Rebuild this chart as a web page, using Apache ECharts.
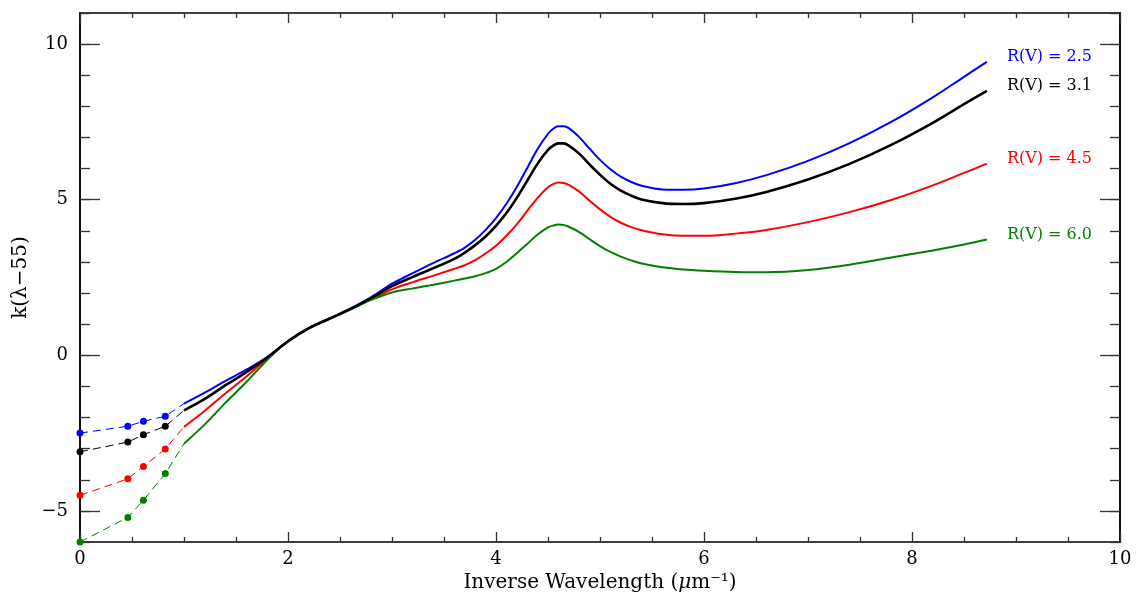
<!DOCTYPE html>
<html><head><meta charset="utf-8">
<script src="https://cdn.jsdelivr.net/npm/echarts@6/dist/echarts.min.js"></script>
<style>html,body{margin:0;padding:0;background:#fff}#c{width:1141px;height:604px}</style>
</head><body><div id="c"></div>
<script>
// Inverse wavelength grid of the solid curves
const xCurve = [1.0,1.2,1.4,1.6,1.8,2.0,2.2,2.4,2.6,2.8,3.0,3.2,3.4,3.6,3.7,3.8,3.9,4.0,4.1,4.2,4.3,4.4,4.5,4.55,4.6,4.65,4.7,4.8,4.9,5.0,5.1,5.2,5.3,5.4,5.6,5.8,6.0,6.3,6.6,7.0,7.4,7.8,8.2,8.5,8.72];
const kRV25 = [-1.55,-1.20,-0.82,-0.46,-0.06,0.45,0.87,1.19,1.50,1.87,2.30,2.64,2.97,3.28,3.46,3.71,4.03,4.41,4.87,5.41,6.02,6.63,7.12,7.28,7.36,7.36,7.30,7.01,6.64,6.28,5.98,5.74,5.57,5.45,5.33,5.32,5.36,5.53,5.79,6.25,6.82,7.50,8.29,8.95,9.43];
const kRV31 = [-1.77,-1.40,-0.96,-0.54,-0.07,0.45,0.87,1.18,1.49,1.84,2.22,2.52,2.80,3.10,3.30,3.54,3.82,4.16,4.57,5.06,5.61,6.16,6.60,6.74,6.81,6.81,6.74,6.48,6.13,5.80,5.51,5.29,5.13,5.01,4.89,4.86,4.89,5.03,5.25,5.65,6.15,6.76,7.47,8.07,8.50];
const kRV45 = [-2.30,-1.78,-1.22,-0.68,-0.10,0.44,0.86,1.17,1.48,1.81,2.12,2.35,2.56,2.78,2.90,3.06,3.27,3.52,3.84,4.21,4.64,5.06,5.40,5.50,5.55,5.54,5.48,5.26,4.97,4.69,4.45,4.26,4.12,4.02,3.89,3.84,3.84,3.91,4.03,4.28,4.60,4.99,5.46,5.86,6.16];
const kRV60 = [-2.84,-2.22,-1.52,-0.86,-0.15,0.46,0.87,1.17,1.47,1.78,2.02,2.15,2.27,2.40,2.47,2.54,2.64,2.78,3.00,3.28,3.58,3.88,4.11,4.17,4.20,4.19,4.13,3.96,3.73,3.51,3.32,3.17,3.05,2.95,2.83,2.76,2.72,2.68,2.67,2.74,2.91,3.14,3.37,3.56,3.72];
// IR anchor points
const xIR = [0, 0.46, 0.61, 0.82];
const irRV25 = [-2.5, -2.28, -2.12, -1.96];
const irRV31 = [-3.1, -2.79, -2.55, -2.28];
const irRV45 = [-4.5, -3.97, -3.57, -3.01];
const irRV60 = [-6.0, -5.21, -4.66, -3.80];
const curveLabels = ['R(V) = 2.5', 'R(V) = 3.1', 'R(V) = 4.5', 'R(V) = 6.0'];
const yMajor = [-5, 0, 5, 10];

const FONT = 'DejaVu Serif';
const curves = [
  {k: kRV25, ir: irRV25, label: curveLabels[0], color: '#0000ff', w: 2},
  {k: kRV45, ir: irRV45, label: curveLabels[2], color: '#ff0000', w: 2},
  {k: kRV60, ir: irRV60, label: curveLabels[3], color: '#007f00', w: 2},
  {k: kRV31, ir: irRV31, label: curveLabels[1], color: '#000000', w: 2.6}
];
const series = [];
curves.forEach(c => {
  series.push({
    type: 'line', xAxisIndex: 0, yAxisIndex: 0, showSymbol: false, smooth: 0.35,
    data: xCurve.map((x, i) => [x, c.k[i]]),
    lineStyle: {color: c.color, width: c.w},
    endLabel: {show: true, formatter: c.label, color: c.color, fontFamily: FONT, fontSize: 16,
               distance: 20, offset: [0, -5]}
  });
  series.push({
    type: 'line', xAxisIndex: 0, yAxisIndex: 0, showSymbol: false,
    data: xIR.map((x, i) => [x, c.ir[i]]).concat([[xCurve[0], c.k[0]]]),
    lineStyle: {color: c.color, width: 1, type: [8, 5]}
  });
  series.push({
    type: 'scatter', xAxisIndex: 0, yAxisIndex: 0, symbol: 'circle', symbolSize: 7,
    data: xIR.map((x, i) => [x, c.ir[i]]),
    itemStyle: {color: c.color, opacity: 1}
  });
});

const lineAx = {show: true, onZero: false, lineStyle: {color: '#000', width: 1.5}};
const tickStyle = {color: '#333', width: 1.3};
const xBase = (pos, labels) => ({
  type: 'value', min: 0, max: 10, interval: 2, position: pos,
  axisLine: lineAx,
  axisTick: {show: true, inside: true, length: 10, lineStyle: tickStyle},
  minorTick: {show: true, splitNumber: 4, length: 5, lineStyle: tickStyle},
  splitLine: {show: false}, minorSplitLine: {show: false},
  axisLabel: {show: labels, fontFamily: FONT, fontSize: 18, color: '#000', margin: 8}
});
const x0 = xBase('bottom', true);
x0.name = '{a|Inverse Wavelength (}{i|\u03bc}{a|m\u207b\u00b9)}';
x0.nameLocation = 'middle';
x0.nameGap = 30;
x0.nameTextStyle = {
  fontFamily: FONT, fontSize: 20, color: '#000',
  rich: {
    a: {fontFamily: FONT, fontSize: 20, color: '#000'},
    i: {fontFamily: FONT, fontSize: 20, color: '#000', fontStyle: 'italic'}
  }
};
const yMajorAx = (pos, labels) => ({
  type: 'value', min: -6, max: 11, position: pos, offset: 0,
  axisLine: lineAx,
  axisTick: {show: true, inside: true, length: 20, customValues: yMajor, lineStyle: tickStyle},
  axisLabel: {show: labels, customValues: yMajor, fontFamily: FONT, fontSize: 18, color: '#000', margin: 12,
              formatter: v => v < 0 ? '\u2212' + (-v) : String(v)},
  splitLine: {show: false}
});
const yMinorAx = (pos) => ({
  type: 'value', min: -6, max: 11, interval: 1, position: pos, offset: 0,
  axisLine: lineAx,
  axisTick: {show: true, inside: true, length: 10, lineStyle: tickStyle},
  axisLabel: {show: false}, splitLine: {show: false}
});
const y0 = yMajorAx('left', true);
y0.name = 'k(\u03bb\u221255)';
y0.nameLocation = 'middle';
y0.nameGap = 48;
y0.nameTextStyle = {fontFamily: FONT, fontSize: 20, color: '#000'};

const chart = echarts.init(document.getElementById('c'), null, {renderer: 'canvas'});
chart.setOption({
  animation: false,
  backgroundColor: '#fff',
  grid: {left: 80, right: 21, top: 13, bottom: 62, containLabel: false},
  xAxis: [x0, xBase('top', false)],
  yAxis: [y0, yMinorAx('left'), yMajorAx('right', false), yMinorAx('right')],
  series: series
});
</script></body></html>
